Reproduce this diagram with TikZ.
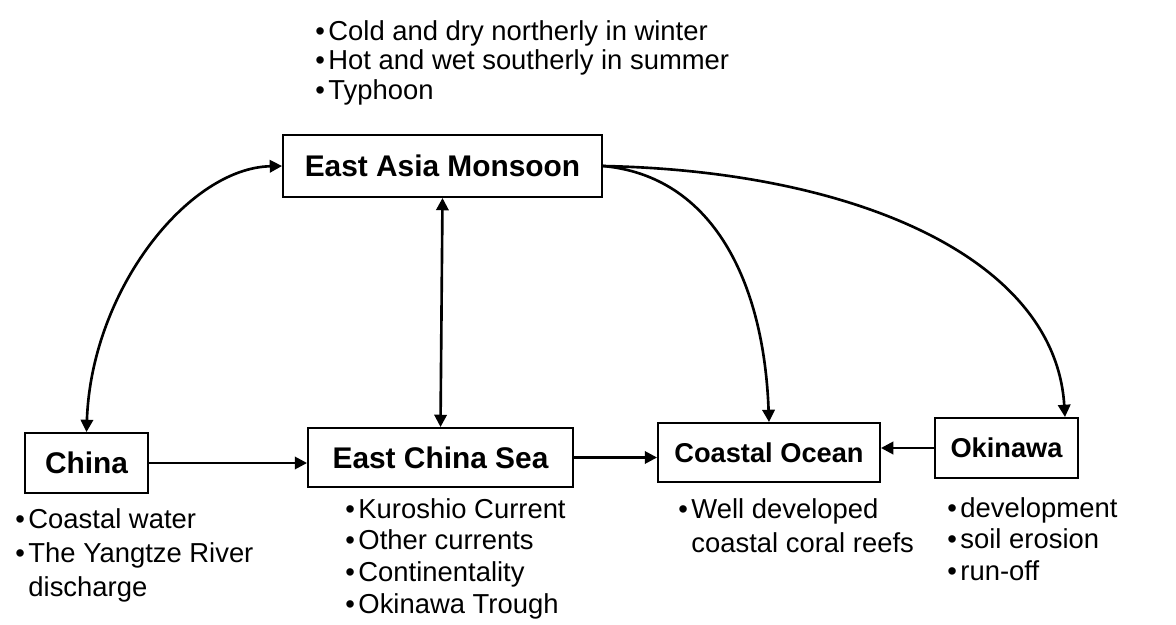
\documentclass[tikz,border=0pt]{standalone}
\usepackage{fontspec}
\setmainfont{Liberation Sans}
\usetikzlibrary{arrows.meta}
\newcommand{\itm}{\textbullet\hspace{2pt}}
\newcommand{\indt}{\phantom{\textbullet\hspace{2pt}}}

\begin{document}
\begin{tikzpicture}[
  x=0.02cm, y=-0.02cm,
  box/.style={rectangle, draw, line width=1.1pt, inner sep=0pt,
              font=\fontsize{17}{20}\selectfont\bfseries},
  notes/.style={anchor=north west, inner sep=0pt, align=left,
                font=\fontsize{15.6}{#1}\selectfont},
  notes/.default=18,
  arr/.style={-{Triangle[length=7pt,width=7pt]}, line width=1.5pt},
  dblarr/.style={{Triangle[length=7pt,width=7pt]}-{Triangle[length=7pt,width=7pt]}, line width=1.5pt}
]
\useasboundingbox (0,0) rectangle (1176,625);

% boxes
\node[box, minimum width=6.38cm, minimum height=1.24cm] (eam) at (442.5,166) {East Asia Monsoon};
\node[box, minimum width=2.46cm, minimum height=1.2cm] (china) at (86.5,463) {China};
\node[box, minimum width=5.3cm, minimum height=1.18cm] (ecs) at (440.5,457.5) {East China Sea};
\node[box, minimum width=4.44cm, minimum height=1.18cm,
      font=\fontsize{15.5}{18}\selectfont\bfseries] (co) at (769,452.5) {Coastal Ocean};
\node[box, minimum width=2.86cm, minimum height=1.2cm,
      font=\fontsize{15.5}{18}\selectfont\bfseries] (oki) at (1006.5,448) {Okinawa};

% bullet notes
\node[notes=16.8] (eamnotes) at (315,20)
  {\itm Cold and dry northerly in winter\\
   \itm Hot and wet southerly in summer\\
   \itm Typhoon};
\node[notes=19.3] (chinanotes) at (15,508)
  {\itm Coastal water\\
   \itm The Yangtze River\\
   \indt discharge};
\node[notes] (ecsnotes) at (345,498)
  {\itm Kuroshio Current\\
   \itm Other currents\\
   \itm Continentality\\
   \itm Okinawa Trough};
\node[notes=19.3] (conotes) at (678,498)
  {\itm Well developed\\
   \indt coastal coral reefs};
\node[notes] (okinotes) at (947,497)
  {\itm development\\
   \itm soil erosion\\
   \itm run-off};

% connectors
\draw[dblarr] (china.north) .. controls +(5,-143) and +(-93,2) .. (eam.west);
\draw[dblarr] (eam.south) -- (ecs.north);
\draw[arr] (eam.east) .. controls +(110,10) and +(-5,-140) .. (co.north);
\draw[arr] (eam.east) .. controls +(250,5) and +(-10,-160) .. ([xshift=1.17cm]oki.north);
\draw[arr] (china.east) -- (china.east -| ecs.west);
\draw[arr] (ecs.east) -- (ecs.east -| co.west);
\draw[arr] (oki.west) -- (oki.west -| co.east);
\end{tikzpicture}
\end{document}
